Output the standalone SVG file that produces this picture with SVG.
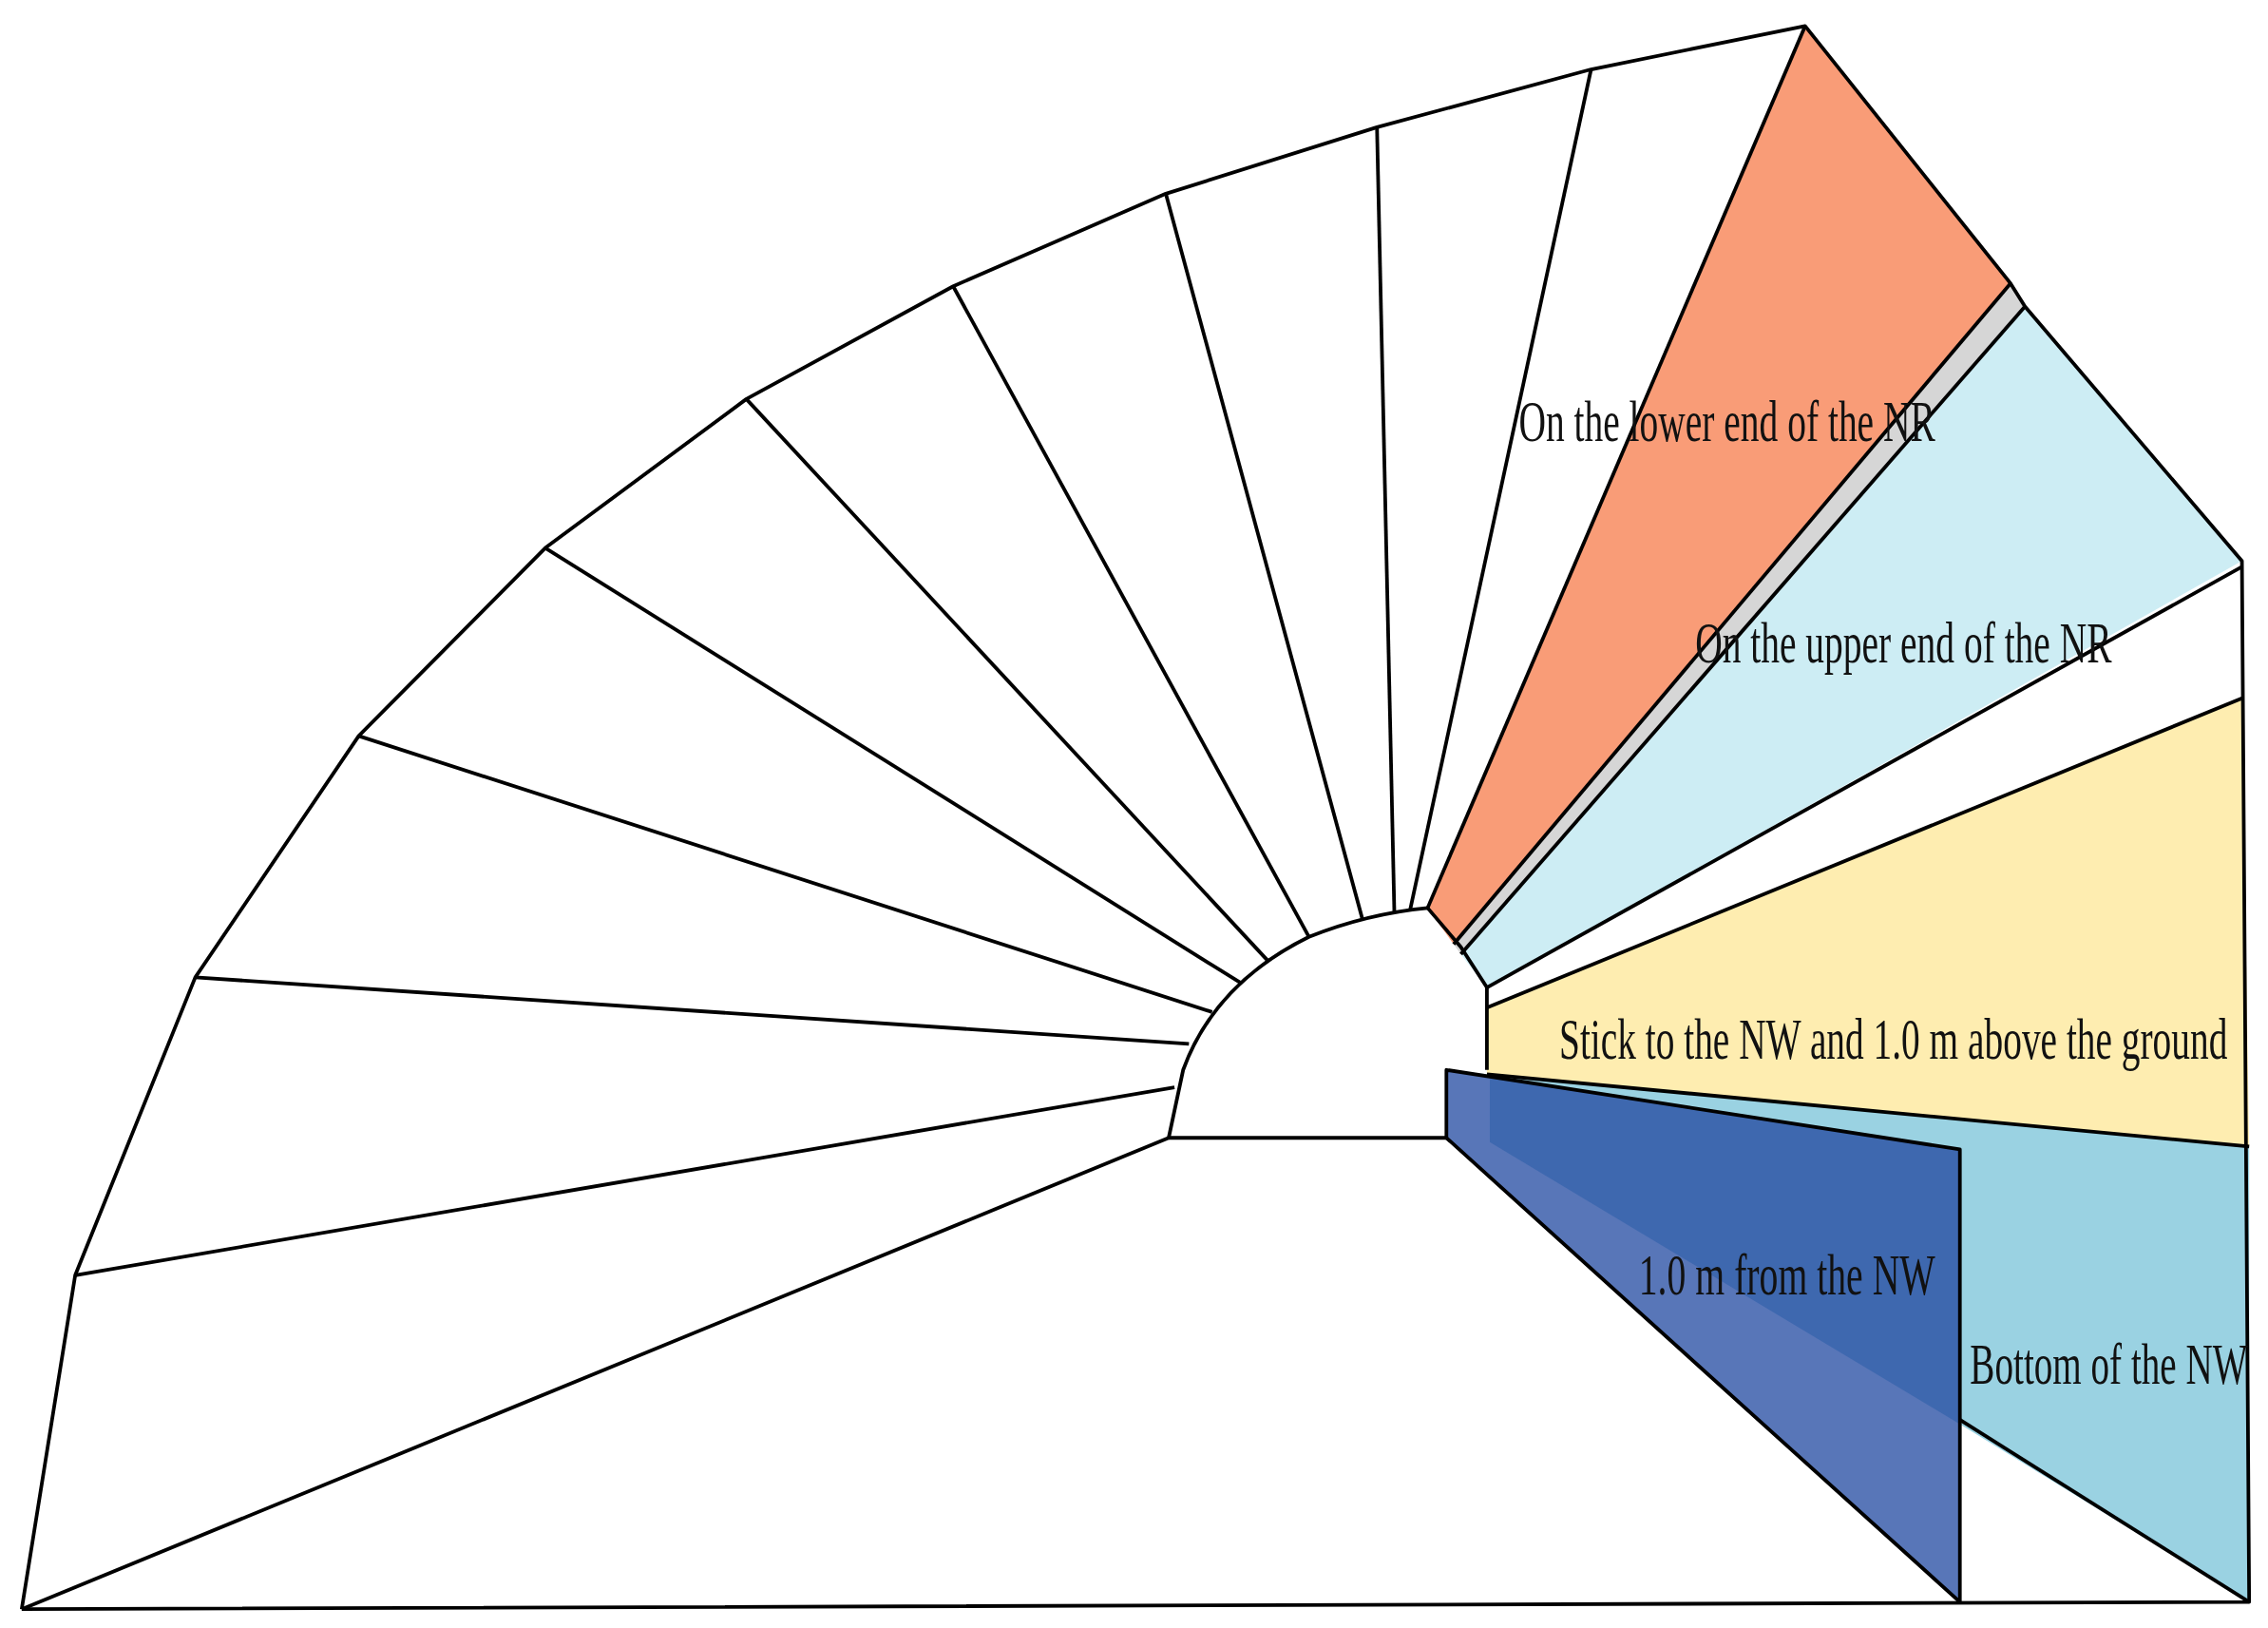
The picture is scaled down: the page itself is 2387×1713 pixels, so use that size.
<svg xmlns="http://www.w3.org/2000/svg" width="2387" height="1713" viewBox="0 0 2387 1713">
<style>
.s{stroke:#000;stroke-width:2.5;stroke-linejoin:round;fill:none}
.t{font-family:"Liberation Serif",serif;font-size:40px;fill:#111}
</style>
<rect width="2387" height="1713" fill="#fff"/>
<g transform="scale(1.5223 1.5213)">
<g id="regions">
<polygon points="987,628 1248,18 1390,196 1005,653" fill="#F99C77"/>
<polygon points="1390,196 1400,212 1010,660 1005,653" fill="#D6D6D6"/>
<polygon points="1010,660 1400,212 1550,388 1028,683" fill="#CDEDF4"/>
<polygon points="1028,697 1550,483 1555,793 1028,743" fill="#FEEDB0"/>
<polygon points="1000,740 1028,743 1555,793 1555,1108 1355,985 1355,795" fill="#9AD2E2"/>
<polygon points="1000,740 1355,795 1355,1108 1000,787" fill="#5876B8"/>
<polygon points="1030,745 1355,795 1355,985 1030,790" fill="#3E68AF"/>
</g>
<g id="outline" class="s">
<polyline points="15,1113 52,882 135,676 248,509 377,379 516,276 659,198 806,134 952,88 1100,48 1248,18 1390,196 1400,212 1550,388 1555,1108 15,1113"/>
<path d="M808,787 L818,740 Q840,680 905,648 Q945,632 987,628 L1010,655 L1028,683 L1028,740"/>
<line x1="808" y1="787" x2="1000" y2="787"/>
<line x1="808" y1="787" x2="15" y2="1113"/>
</g>
<g id="spokes" class="s">
<line x1="812" y1="752" x2="52" y2="882"/>
<line x1="822" y1="722" x2="135" y2="676"/>
<line x1="838" y1="700" x2="248" y2="509"/>
<line x1="858" y1="680" x2="377" y2="379"/>
<line x1="877" y1="665" x2="516" y2="276"/>
<line x1="905" y1="648" x2="659" y2="198"/>
<line x1="942" y1="636" x2="806" y2="134"/>
<line x1="964" y1="631" x2="952" y2="88"/>
<line x1="975" y1="629" x2="1100" y2="48"/>
<line x1="987" y1="628" x2="1248" y2="18"/>
<line x1="1005" y1="653" x2="1390" y2="196"/>
<line x1="1010" y1="660" x2="1400" y2="212"/>
<line x1="1028" y1="683" x2="1550" y2="392"/>
<line x1="1028" y1="697" x2="1550" y2="483"/>
<line x1="1028" y1="743" x2="1555" y2="793"/>
<polyline points="1000,787 1000,740 1355,795 1355,1108 1000,787"/>
<line x1="1355" y1="982" x2="1555" y2="1108"/>
</g>
<g id="labels">
<text class="t" x="1050" y="305" textLength="288" lengthAdjust="spacingAndGlyphs">On the lower end of the NR</text>
<text class="t" x="1172" y="458" textLength="288" lengthAdjust="spacingAndGlyphs">On the upper end of the NR</text>
<text class="t" x="1078" y="732" textLength="462" lengthAdjust="spacingAndGlyphs">Stick to the NW and 1.0 m above the ground</text>
<text class="t" x="1133" y="895" textLength="205" lengthAdjust="spacingAndGlyphs">1.0 m from the NW</text>
<text class="t" x="1362" y="957" textLength="192" lengthAdjust="spacingAndGlyphs">Bottom of the NW</text>
</g>
</g>
</svg>
